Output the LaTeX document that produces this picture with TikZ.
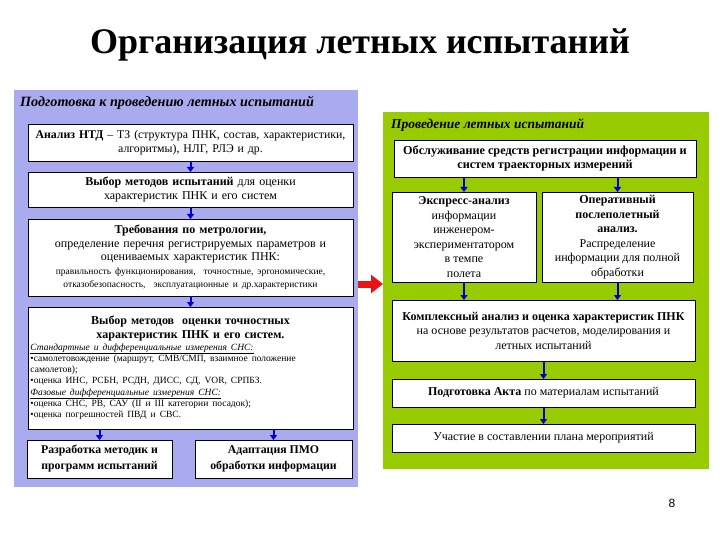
\documentclass[tikz,border=0pt]{standalone}
\usepackage{fontspec}
\setmainfont{Liberation Serif}
\newfontfamily\numfont{Liberation Sans}
\usetikzlibrary{arrows.meta,calc}
\definecolor{lav}{RGB}{170,170,238}
\definecolor{grn}{RGB}{153,204,0}
\definecolor{arrblue}{RGB}{0,0,210}
\definecolor{redarr}{RGB}{235,20,20}
\begin{document}
\begin{tikzpicture}[x=1pt,y=-1pt,
  panel/.style={inner sep=0pt, outer sep=0pt, anchor=north west},
  phead/.style={anchor=west, inner sep=0pt, font=\fontsize{13.5}{15}\selectfont\bfseries\itshape},
  box/.style={draw=black, line width=0.8pt, fill=white, inner sep=0pt, outer sep=0pt, align=center,
    font=\fontsize{12}{13.5}\selectfont},
  arr/.style={draw=arrblue, line width=2pt, -{Triangle[width=7pt,length=5pt]}},
  redarrow/.style={draw=redarr, line width=7pt, -{Triangle[width=18pt,length=12pt]}}]
\useasboundingbox (0,0) rectangle (720,540);
\fill[white] (0,0) rectangle (720,540);
\node[font=\fontsize{36}{40}\selectfont\bfseries] (title) at (360,45) {Организация летных испытаний};
% left panel
\node[panel, fill=lav, minimum width=344pt, minimum height=397pt] (lp) at (14,90) {};
\node[phead, font=\fontsize{14.2}{16}\selectfont\bfseries\itshape] (lh) at (20,103) {Подготовка к проведению летных испытаний};
\node[box, minimum width=325pt, minimum height=37pt, text width=322pt, font=\fontsize{11.8}{13.8}\selectfont] (b1) at (190.5,142.5)
  {\textbf{Анализ НТД} – ТЗ (структура ПНК, состав, характеристики,\\ алгоритмы), НЛГ, РЛЭ и др.};
\node[box, minimum width=325pt, minimum height=35pt, text width=322pt] (b2) at (190.5,189.5)
  {\textbf{Выбор методов испытаний} для оценки\\ характеристик ПНК и его систем};
\node[box, minimum width=325pt, minimum height=77pt, text width=322pt] (b3) at (190.5,257.5)
  {\textbf{Требования по метрологии,}\\ определение перечня регистрируемых параметров и\\ оцениваемых характеристик ПНК:\\
   {\fontsize{9.5}{13.5}\selectfont правильность функционирования,\ \ точностные, эргономические,\\ отказобезопасность,\ \ эксплуатационные и др.характеристики}};
\node[box, minimum width=325pt, minimum height=122pt, text width=320pt, align=left] (b4) at (190.5,368)
  {{\centering\bfseries\fontsize{12}{14}\selectfont Выбор методов\ \ оценки точностных\\ характеристик ПНК и его систем.\par}
   {\fontsize{9.5}{11.3}\selectfont\raggedright
   \underline{\textit{Стандартные и дифференциальные измерения СНС:}}\\
   •самолетовождение (маршрут, СМВ/СМП, взаимное положение\\
   самолетов);\\
   •оценка ИНС, РСБН, РСДН, ДИСС, СД, VOR, СРПБЗ.\\
   \underline{\textit{Фазовые дифференциальные измерения СНС:}}\\
   •оценка СНС, РВ, САУ (II и III категории посадок);\\
   •оценка погрешностей ПВД и СВС.\par}};
\node[box, minimum width=145pt, minimum height=38pt, font=\fontsize{11.8}{16}\selectfont\bfseries] (b5) at (99.5,459)
  {Разработка методик и\\ программ испытаний};
\node[box, minimum width=157pt, minimum height=38pt, font=\fontsize{11.8}{16}\selectfont\bfseries] (b6) at (273.5,459)
  {Адаптация ПМО\\ обработки информации};
\draw[arr] (b1.south) -- (b2.north);
\draw[arr] (b2.south) -- (b3.north);
\draw[arr] (b3.south) -- (b4.north);
\draw[arr] (b5.north |- b4.south) -- (b5.north);
\draw[arr] (b6.north |- b4.south) -- (b6.north);
% right panel
\node[panel, fill=grn, minimum width=326pt, minimum height=357pt] (rp) at (383,112) {};
\node[phead] (rh) at (391,125) {Проведение летных испытаний};
\node[box, minimum width=302pt, minimum height=37pt, font=\fontsize{12.2}{14.5}\selectfont\bfseries] (r1) at (545,158.5)
  {Обслуживание средств регистрации информации и\\ систем траекторных измерений};
\node[box, minimum width=144pt, minimum height=90pt, font=\fontsize{12}{14.5}\selectfont] (r2) at (464,237)
  {\textbf{Экспресс-анализ}\\ информации\\ инженером-\\ экспериментатором\\ в темпе\\ полета};
\node[box, minimum width=151pt, minimum height=90pt, font=\fontsize{12}{14.5}\selectfont] (r3) at (617.5,237)
  {\textbf{Оперативный}\\ \textbf{послеполетный}\\ \textbf{анализ.}\\ Распределение\\ информации для полной\\ обработки};
\node[box, minimum width=303pt, minimum height=61pt, font=\fontsize{12}{14.5}\selectfont] (r4) at (543.5,330.5)
  {\textbf{Комплексный анализ и оценка характеристик ПНК}\\ на основе результатов расчетов, моделирования и\\ летных испытаний};
\node[box, minimum width=303pt, minimum height=28pt] (r5) at (543.5,393)
  {\textbf{Подготовка Акта} по материалам испытаний};
\node[box, minimum width=303pt, minimum height=28pt] (r6) at (543.5,438)
  {Участие в составлении плана мероприятий};
\draw[arr] (r2.north |- r1.south) -- (r2.north);
\draw[arr] (r3.north |- r1.south) -- (r3.north);
\draw[arr] (r2.south) -- (r2.south |- r4.north);
\draw[arr] (r3.south) -- (r3.south |- r4.north);
\draw[arr] (r4.south) -- (r5.north);
\draw[arr] (r5.south) -- (r6.north);
% red arrow between panels
\coordinate (ra) at (0,284);
\draw[redarrow] (lp.east |- ra) -- (rp.west |- ra);
\node[font=\numfont\fontsize{12}{14}\selectfont] (pg) at (672,503) {8};
\end{tikzpicture}
\end{document}
